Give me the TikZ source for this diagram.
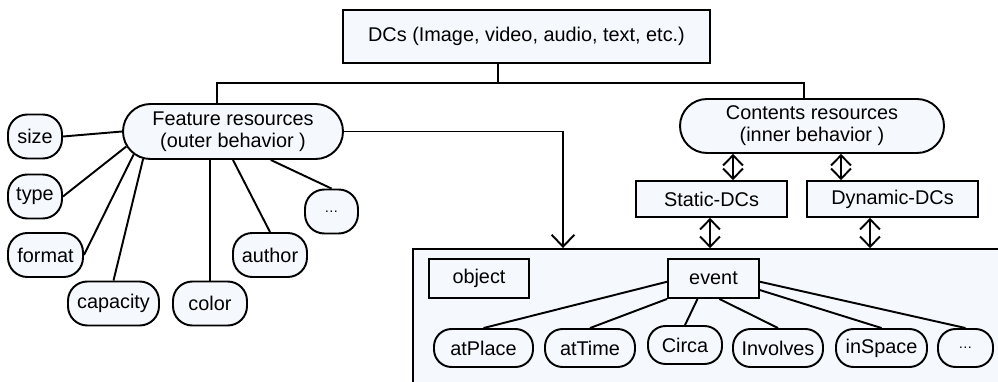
\documentclass[tikz,border=0pt]{standalone}
\usepackage{fontspec}
\setmainfont{Liberation Sans}
\usetikzlibrary{shapes.misc,arrows.meta}
\definecolor{pale}{RGB}{245,248,252}
\newcommand{\smalldots}{{\fontsize{8}{9}\selectfont\dots}}

\begin{document}
\begin{tikzpicture}[x=0.02cm,y=-0.02cm,line width=1.1pt,
        every node/.style={font=\fontsize{11.3}{12.5}\selectfont,inner sep=0pt,align=center},
        wh/.style 2 args={minimum width=#1*0.02cm,minimum height=#2*0.02cm},
        box/.style={draw,fill=pale,rectangle},
        pill/.style={draw,fill=pale,rectangle,rounded corners=#1},
        bigpill/.style={draw,fill=pale,rounded rectangle},
        barb/.style={-{Straight Barb[length=6.8pt,width=13pt]}},
        dbl/.style={{Straight Barb[length=5.7pt,width=11.3pt]}-{Straight Barb[length=5.7pt,width=11.3pt]}}]
        \useasboundingbox (0,0) rectangle (998,382);
        \clip (0,0) rectangle (998,382);
        \node[box,wh={367}{53}] (dcs) at (526.5,36.5) {DCs (Image, video, audio, text, etc.)};
        \node[bigpill,wh={220}{55}] (feat) at (233,131.5) {Feature resources\\(outer behavior )};
        \node[bigpill,wh={264}{54}] (cont) at (812,126) {Contents resources\\(inner behavior )};
        \node[box,wh={151}{36}] (static) at (711.5,199) {Static-DCs};
        \node[box,wh={171}{36}] (dynamic) at (892.5,199) {Dynamic-DCs};
        \node[box,wh={600}{148}] (panel) at (713,323) {};
        \node[box,wh={100}{39}] (object) at (479,278.5) {object};
        \node[box,wh={91}{39}] (event) at (713.5,278.5) {event};
        \foreach \name/\x/\y/\w/\txt in {size/35/136.5/54/size, type/35/196.5/54/type,
            format/45.5/255/75/format, capacity/113.5/303.5/91/capacity, color/210/303.5/74/color,
            author/270/255/74/author, fdots/331.5/211.5/53/\smalldots} {
            \node[pill=11pt,wh={\w}{44}] (\name) at (\x,\y) {\txt};
        }
        \foreach \name/\x/\y/\w/\txt in {atplace/483.5/348/99/atPlace, attime/590/348/90/atTime,
            circa/685/345/74/Circa, involves/778/348/90/Involves, inspace/881.5/348/91/inSpace,
            edots/965.5/348/55/\smalldots} {
            \node[pill=10pt,wh={\w}{38}] (\name) at (\x,\y) {\txt};
        }
        \coordinate (fork) at (498,83);
        \coordinate (fl) at (217,83);
        \coordinate (fr) at (804,83);
        \draw (dcs.south -| fork) -- (fork);
        \draw (fl |- feat.north) -- (fl) -- (fr) -- (fr |- cont.north);
        \draw (feat.west) -- (size.east);
        \draw (feat.188) -- (type.east);
        \draw (feat.193) -- (format.east);
        \draw (feat.197) -- (capacity.north);
        \draw (color.north) -- (color.north |- feat.south);
        \draw (feat.south) -- (author.north);
        \draw (feat.323) -- (fdots.north);
        \coordinate (drop) at (563,0);
        \draw[barb] (feat.east) -| (drop |- panel.north);
        \coordinate (s1) at (733,0);
        \coordinate (d1) at (841,0);
        \coordinate (s2) at (710,0);
        \coordinate (d2) at (870,0);
        \draw[dbl] (s1 |- cont.south) -- (s1 |- static.north);
        \draw[dbl] (d1 |- cont.south) -- (d1 |- dynamic.north);
        \draw[dbl] (s2 |- static.south) -- (s2 |- panel.north);
        \draw[dbl] (d2 |- dynamic.south) -- (d2 |- panel.north);
        \draw (event.184) -- (atplace.north);
        \draw (event.south west) -- (attime.north);
        \draw (event.232) -- (circa.north);
        \draw (event.286) -- (involves.north);
        \draw (event.346) -- (inspace.north);
        \draw (event.356) -- (edots.north);
        \end{tikzpicture}
\end{document}
